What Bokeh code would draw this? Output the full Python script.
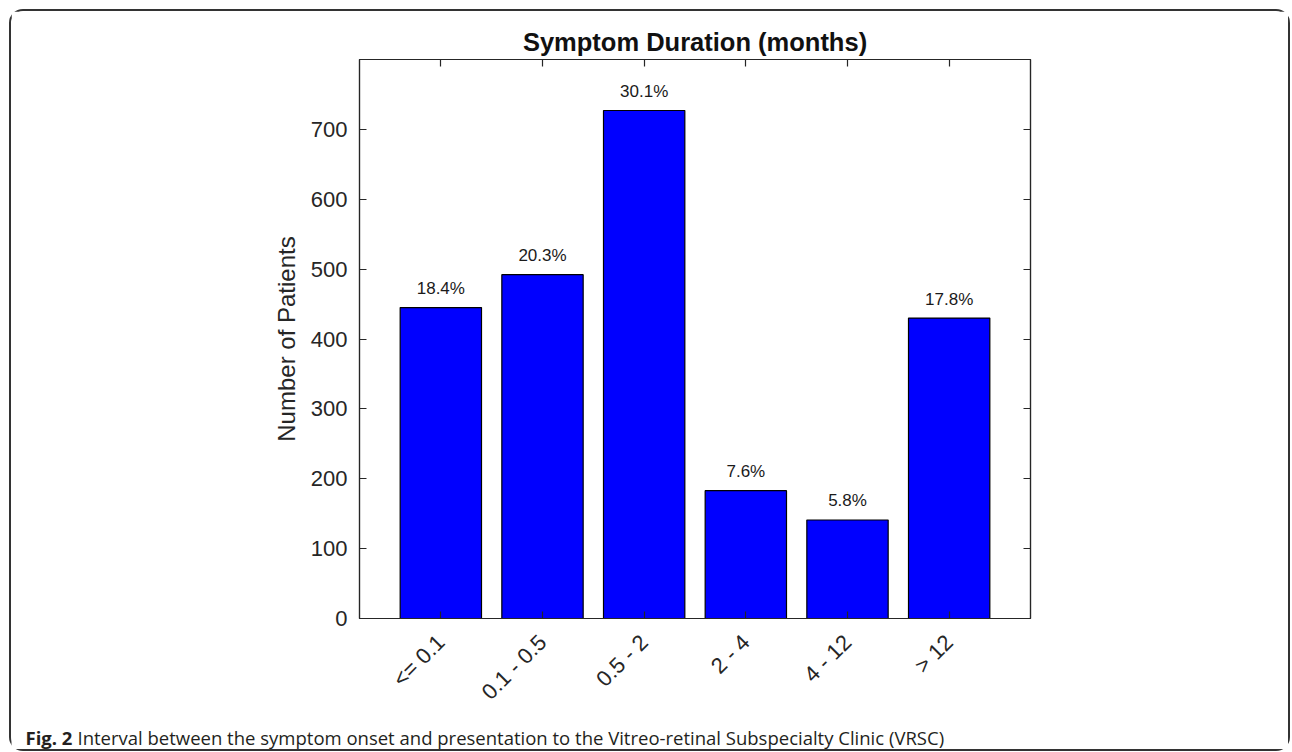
import math
from bokeh.plotting import figure
from bokeh.layouts import column
from bokeh.models import Range1d, FixedTicker, LinearAxis, Label
from bokeh.core.properties import value
from bokeh.embed import file_html
from bokeh.resources import INLINE

# ---- data ----
categories = ["<= 0.1", "0.1 - 0.5", "0.5 - 2", "2 - 4", "4 - 12", "> 12"]
patients = [445, 492, 727, 183, 141, 430]
pct_labels = ["18.4%", "20.3%", "30.1%", "7.6%", "5.8%", "17.8%"]
y_ticks = [0, 100, 200, 300, 400, 500, 600, 700]
title_text = "Symptom Duration (months)"
y_label_text = "Number of Patients"
caption_bold = "Fig. 2"
caption_text = "Interval between the symptom onset and presentation to the Vitreo-retinal Subspecialty Clinic (VRSC)"

xs = list(range(1, len(categories) + 1))
X0, X1, Y0, Y1 = 0.2, 6.8, 0, 800

OX, OY = 11, 11          # content origin on the page (margin + border)
W, H = 1277, 705
ML, MT = 348, 48
FW, FH = 671, 561
MR = W - ML - FW
MB = H - MT - FH
CAP_H = 33

AX = "#262626"
HELV = "Liberation Sans"

p = figure(width=W, height=H, output_backend="svg", toolbar_location=None,
           x_range=Range1d(X0, X1), y_range=Range1d(Y0, Y1),
           x_axis_type=None, y_axis_type=None,
           min_border_left=ML, min_border_right=MR,
           min_border_top=MT, min_border_bottom=MB)
p.frame_align = False
p.grid.visible = False
p.outline_line_color = AX
p.outline_line_width = 1.2
p.background_fill_color = "white"
p.border_fill_color = "white"

p.title.text = title_text
p.title.align = "center"
p.title.text_font = HELV
p.title.text_font_size = "25.5px"
p.title.text_font_style = "bold"
p.title.text_color = "#111111"
p.title.standoff = 8

p.vbar(x=xs, top=patients, bottom=0, width=0.8,
       fill_color="#0000FF", line_color="black", line_width=1.2)

p.text(x=xs, y=patients, text=pct_labels, y_offset=-19,
       text_align="center", text_baseline="middle",
       text_font=value(HELV), text_font_size="17px", text_color="#1a1a1a")


def style_axis(ax, show_labels):
    ax.axis_line_color = AX
    ax.axis_line_width = 1.2
    ax.major_tick_line_color = AX
    ax.major_tick_line_width = 1.2
    ax.major_tick_in = 7
    ax.major_tick_out = 0
    ax.minor_tick_line_color = None
    ax.major_label_text_font = HELV
    ax.major_label_text_font_size = "22px"
    ax.major_label_text_color = AX if show_labels else None


left = LinearAxis(ticker=FixedTicker(ticks=y_ticks), axis_label=y_label_text)
style_axis(left, True)
left.major_label_standoff = 12
left.axis_label_text_font = HELV
left.axis_label_text_font_size = "24px"
left.axis_label_text_font_style = "normal"
left.axis_label_text_color = AX
left.axis_label_standoff = 8
p.add_layout(left, "left")

right = LinearAxis(ticker=FixedTicker(ticks=y_ticks),
                   major_label_overrides={t: "" for t in y_ticks})
style_axis(right, False)
p.add_layout(right, "right")

bottom = LinearAxis(ticker=FixedTicker(ticks=xs),
                    major_label_overrides={x: c for x, c in zip(xs, categories)})
style_axis(bottom, True)
bottom.major_label_orientation = math.pi / 4
bottom.major_label_standoff = 20
p.add_layout(bottom, "below")

top = LinearAxis(ticker=FixedTicker(ticks=xs),
                 major_label_overrides={x: "" for x in xs})
style_axis(top, False)
top.major_label_standoff = 0
p.add_layout(top, "above")

# ---- caption strip: a small figure whose frame fills its canvas (pixel coordinates) ----
cap = figure(width=W, height=CAP_H, output_backend="svg", toolbar_location=None,
             x_range=Range1d(0, W), y_range=Range1d(CAP_H, 0),
             x_axis_type=None, y_axis_type=None, min_border=0)
cap.frame_align = False
cap.grid.visible = False
cap.outline_line_color = None
cap.background_fill_color = "white"
cap.border_fill_color = "white"

cap_top = OY + H
cap_y = 737 - cap_top
cap.add_layout(Label(x=25 - OX, y=cap_y, text=caption_bold, text_align="left",
                     text_baseline="middle", text_font="Open Sans",
                     text_font_size="18.5px", text_font_style="bold",
                     text_color="#231f20"))
cap.add_layout(Label(x=77 - OX, y=cap_y, text=caption_text, text_align="left",
                     text_baseline="middle", text_font="Open Sans",
                     text_font_size="18.5px", text_color="#231f20"))

layout = column(p, cap, spacing=0,
                styles={"border": "2px solid #333333", "border-radius": "14px",
                        "margin-left": "9px", "margin-top": "9px",
                        "background-color": "white"})

open("out.html", "w").write(file_html(layout, INLINE))
